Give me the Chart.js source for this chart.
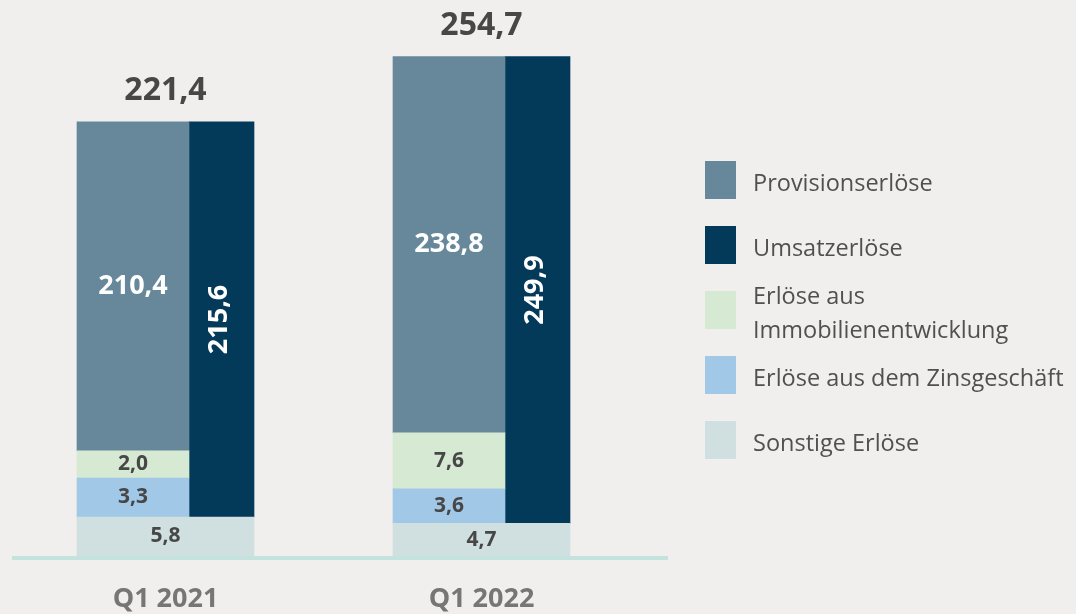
<!DOCTYPE html>
<html>
<head>
<meta charset="utf-8">
<script src="https://cdn.jsdelivr.net/npm/chart.js@4.4.1/dist/chart.umd.min.js"></script>
<style>
  body { margin: 0; background: #f0efed; font-family: 'Open Sans', sans-serif; }
  #wrap { position: relative; width: 1076px; height: 614px; }
  #legend { position: absolute; left: 705px; top: 147px; }
  .row { display: flex; align-items: center; height: 65px; }
  .box { width: 31px; height: 38px; flex: none; }
  .txt { margin-left: 17px; font-size: 23.5px; line-height: 34px; color: #505050; padding-top: 5px; white-space: nowrap; }
</style>
</head>
<body>
<div id="wrap">
  <canvas id="revChart" width="1076" height="614"></canvas>
  <div id="legend"></div>
</div>
<script>
const quarters = ['Q1 2021', 'Q1 2022'];
const totals = [221.4, 254.7];

// values printed on the chart
const provisionserloese = [210.4, 238.8];
const umsatzerloese = [215.6, 249.9];
const immobilienentwicklung = [2.0, 7.6];
const zinsgeschaeft = [3.3, 3.6];
const sonstigeErloese = [5.8, 4.7];

// segment lengths as drawn in the original (small items are not to scale there)
const provisionDrawn = [167.8, 191.9];
const umsatzDrawn = [201.5, 238.1];
const immobilienDrawn = [13.8, 28.6];
const zinsDrawn = [19.9, 17.6];
const sonstigeDrawn = [19.9, 16.6];

const legendNames = ['Provisionserlöse', 'Umsatzerlöse', 'Erlöse aus<br>Immobilienentwicklung', 'Erlöse aus dem Zinsgeschäft', 'Sonstige Erlöse'];

const colors = {
    provision: '#67889b',
    umsatz: '#033a5a',
    immo: '#d5e9d3',
    zins: '#a1c8e7',
    sonstige: '#d0dfdf'
};

const fmt = v => v.toFixed(1).replace('.', ',');

// legend
const legendDiv = document.getElementById('legend');
[colors.provision, colors.umsatz, colors.immo, colors.zins, colors.sonstige].forEach((c, i) => {
    const row = document.createElement('div');
    row.className = 'row';
    row.innerHTML = `<div class="box" style="background:${c}"></div><div class="txt">${legendNames[i]}</div>`;
    legendDiv.appendChild(row);
});

const labelPlugin = {
    id: 'labels',
    beforeDatasetsDraw(chart) {
        const { ctx, chartArea } = chart;
        ctx.save();
        ctx.fillStyle = '#c4e3de';
        ctx.fillRect(chartArea.left - 19, chartArea.bottom, chartArea.right - chartArea.left + 24, 4);
        ctx.restore();
    },
    afterDatasetsDraw(chart) {
        const ctx = chart.ctx;
        ctx.save();
        ctx.textAlign = 'center';
        ctx.textBaseline = 'middle';
        const ds = chart.data.datasets;
        ds.forEach((d, di) => {
            if (!d.labelStyle) return;
            chart.getDatasetMeta(di).data.forEach((el, i) => {
                const midY = (el.y + el.base) / 2;
                const text = fmt(d.values[i]);
                if (d.labelStyle === 'white') {
                    ctx.fillStyle = '#ffffff';
                    ctx.font = 'bold 27px "Open Sans"';
                    ctx.fillText(text, el.x, midY);
                } else if (d.labelStyle === 'rotated') {
                    ctx.save();
                    ctx.translate(el.x - 2, midY);
                    ctx.rotate(-Math.PI / 2);
                    ctx.fillStyle = '#ffffff';
                    ctx.font = 'bold 27px "Open Sans"';
                    ctx.fillText(text, 0, 0);
                    ctx.restore();
                } else if (d.labelStyle === 'dark') {
                    ctx.fillStyle = '#474747';
                    ctx.font = 'bold 21px "Open Sans"';
                    ctx.fillText(text, el.x, midY);
                } else if (d.labelStyle === 'span') {
                    const other = chart.getDatasetMeta(d.partner).data[i];
                    const x = (el.x - el.width / 2 + other.x + other.width / 2) / 2;
                    ctx.fillStyle = '#474747';
                    ctx.font = 'bold 21px "Open Sans"';
                    ctx.fillText(text, x, midY);
                }
            });
        });

        // totals above bars and category labels below
        const left = chart.getDatasetMeta(3).data;
        const right = chart.getDatasetMeta(5).data;
        quarters.forEach((q, i) => {
            const a = left[i], b = right[i];
            const cx = (a.x - a.width / 2 + b.x + b.width / 2) / 2;
            const top = Math.min(a.y, b.y);
            ctx.fillStyle = '#474747';
            ctx.font = 'bold 32px "Open Sans"';
            ctx.fillText(fmt(totals[i]), cx, top - 31);
            ctx.fillStyle = '#767676';
            ctx.font = 'bold 27px "Open Sans"';
            ctx.fillText(q, cx, chart.chartArea.bottom + 43);
        });
        ctx.restore();
    }
};

const ctx = document.getElementById('revChart').getContext('2d');
new Chart(ctx, {
    type: 'bar',
    data: {
        labels: quarters,
        datasets: [
            { label: 'Sonstige Erlöse', data: sonstigeDrawn, values: sonstigeErloese, backgroundColor: colors.sonstige, stack: 'a', barThickness: 112, labelStyle: 'span', partner: 4 },
            { label: 'Erlöse aus dem Zinsgeschäft', data: zinsDrawn, values: zinsgeschaeft, backgroundColor: colors.zins, stack: 'a', barThickness: 112, labelStyle: 'dark' },
            { label: 'Erlöse aus Immobilienentwicklung', data: immobilienDrawn, values: immobilienentwicklung, backgroundColor: colors.immo, stack: 'a', barThickness: 112, labelStyle: 'dark' },
            { label: 'Provisionserlöse', data: provisionDrawn, values: provisionserloese, backgroundColor: colors.provision, stack: 'a', barThickness: 112, labelStyle: 'white' },
            { label: 'Sonstige Erlöse', data: sonstigeDrawn, values: sonstigeErloese, backgroundColor: colors.sonstige, stack: 'b', barThickness: 65 },
            { label: 'Umsatzerlöse', data: umsatzDrawn, values: umsatzerloese, backgroundColor: colors.umsatz, stack: 'b', barThickness: 65, labelStyle: 'rotated' }
        ]
    },
    options: {
        responsive: false,
        animation: false,
        devicePixelRatio: 1,
        layout: { padding: { left: 31, right: 413, top: 8, bottom: 58 } },
        plugins: { legend: { display: false }, tooltip: { enabled: false } },
        scales: {
            x: { display: false },
            y: { display: false, stacked: true, min: 0, max: 279.5 }
        }
    },
    plugins: [labelPlugin]
});
</script>
</body>
</html>
